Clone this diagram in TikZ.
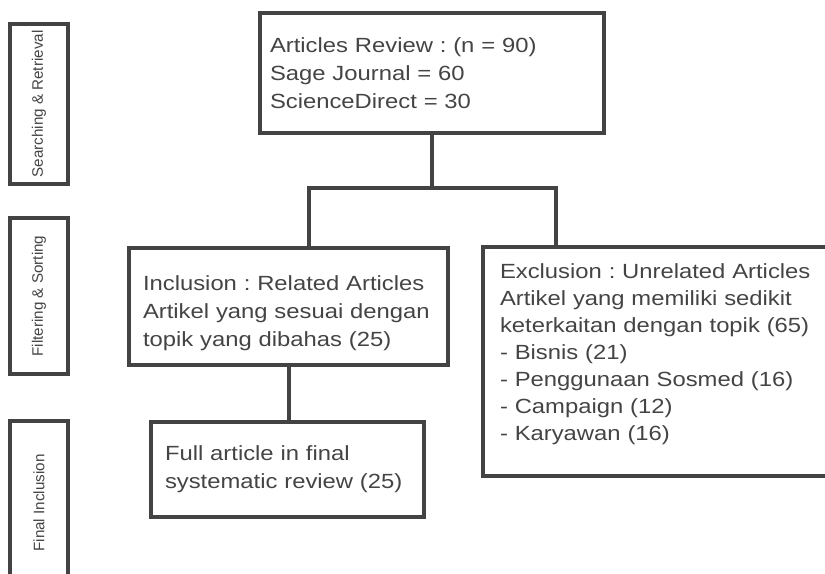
\documentclass[tikz,border=0pt]{standalone}
\usepackage{fontspec}
\setmainfont{Liberation Sans}
\newfontfamily\boxfont[FakeStretch=1.16]{Liberation Sans}
\definecolor{edge}{HTML}{434343}
\definecolor{ink}{HTML}{444444}
\frenchspacing

\begin{document}
\begin{tikzpicture}[
  x=0.75pt,y=-0.75pt,
  box/.style={draw=edge,line width=3pt,align=left,inner xsep=7.5pt,inner ysep=0pt,
    font=\boxfont\fontsize{15.4}{21}\selectfont,text=ink},
  phase/.style={draw=edge,line width=3pt,rotate=90,inner sep=0pt,
    minimum height=43.5pt,font=\fontsize{11.4}{13}\selectfont,text=ink},
  link/.style={draw=edge,line width=3pt}]
\useasboundingbox (0,0) rectangle (825,574);
\clip (0,0) rectangle (825,574);
\node[phase,minimum width=120pt] (s1) at (39,104) {Searching \& Retrieval};
\node[phase,minimum width=117pt] (s2) at (39,296) {Filtering \& Sorting};
\node[phase,minimum width=123pt] (s3) at (39,503) {Final Inclusion};
\node[box,text width=243pt,minimum width=258pt,minimum height=90pt] (top) at (432,73)
  {Articles Review : (n = 90)\\Sage Journal = 60\\ScienceDirect = 30};
\node[box,inner xsep=10.5pt,text width=218.25pt,minimum width=239.25pt,
  minimum height=87.75pt] (incl) at (288.5,306.5)
  {\rule{0pt}{21.5pt}Inclusion : Related Articles\\Artikel yang sesuai dengan\\topik yang dibahas (25)};
\node[box,inner xsep=12.75pt,text width=264.75pt,minimum width=290.25pt,
  minimum height=171.75pt,font=\boxfont\fontsize{15.4}{20.25}\selectfont] (excl) at (676.5,361.5)
  {Exclusion : Unrelated Articles\\Artikel yang memiliki sedikit\\keterkaitan dengan topik (65)\\
   - Bisnis (21)\\- Penggunaan Sosmed (16)\\- Campaign (12)\\- Karyawan (16)\rule[-14pt]{0pt}{14pt}};
\node[box,inner xsep=10.5pt,text width=183.75pt,minimum width=204.75pt,
  minimum height=71.25pt] (full) at (287.5,469.5)
  {Full article in final\\systematic review (25)};
\draw[link] (top.south) -- ++(0,53) -| ([xshift=15.4pt]incl.north);
\draw[link] (top.south) -- ++(0,53) -| ([xshift=-90.4pt]excl.north);
\draw[link] (incl.south) -- (incl.south |- full.north);
\end{tikzpicture}
\end{document}
